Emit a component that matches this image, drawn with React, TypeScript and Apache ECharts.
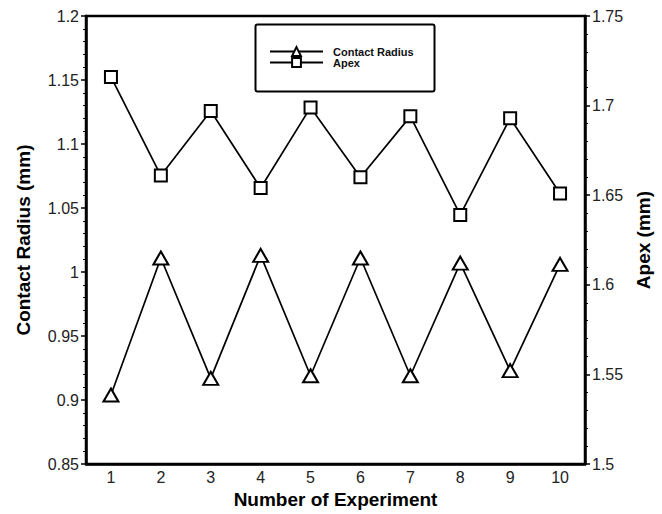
import React, { useEffect, useRef } from "react";
import * as echarts from "echarts";

const experiments = ["1", "2", "3", "4", "5", "6", "7", "8", "9", "10"];
const contactRadius = [0.904, 1.011, 0.917, 1.013, 0.919, 1.011, 0.919, 1.007, 0.923, 1.006];
const apex = [1.716, 1.661, 1.697, 1.654, 1.699, 1.660, 1.694, 1.639, 1.693, 1.651];

const FONT = "'Liberation Sans', Arial, sans-serif";

const fmt = (v: number) => String(parseFloat(Number(v).toFixed(2)));

export default function App() {
  const ref = useRef<HTMLDivElement>(null);
  useEffect(() => {
    if (!ref.current) return;
    const chart = echarts.init(ref.current, null, { renderer: "svg" });
    const axisCommon = {
      type: "value" as const,
      interval: 0.05,
      splitLine: { show: false },
      axisLine: { show: true, lineStyle: { color: "#000", width: 2.5 } },
      axisTick: { show: true, inside: false, length: 5, lineStyle: { color: "#000", width: 1.5 } },
      minorTick: { show: true, splitNumber: 5, length: 3, lineStyle: { color: "#000", width: 1 } },
      axisLabel: { fontFamily: FONT, fontSize: 16, color: "#222", margin: 7, formatter: fmt },
      nameLocation: "middle" as const,
      nameTextStyle: { fontFamily: FONT, fontSize: 19, fontWeight: "bold" as const, color: "#000" },
    };
    chart.setOption({
      animation: false,
      backgroundColor: "#fff",
      grid: {
        left: 86,
        right: 77,
        top: 16,
        bottom: 42,
        show: true,
        borderColor: "#000",
        borderWidth: 2.5,
      },
      xAxis: {
        type: "category",
        data: experiments,
        boundaryGap: true,
        axisLine: { show: true, lineStyle: { color: "#000", width: 2.5 } },
        axisTick: { show: false },
        axisLabel: { fontFamily: FONT, fontSize: 16, color: "#222", margin: 5 },
        name: "Number of Experiment",
        nameLocation: "middle",
        nameGap: 20,
        nameTextStyle: { fontFamily: FONT, fontSize: 19, fontWeight: "bold", color: "#000" },
      },
      yAxis: [
        {
          ...axisCommon,
          min: 0.85,
          max: 1.2,
          position: "left",
          name: "Contact Radius (mm)",
          nameGap: 53,
        },
        {
          ...axisCommon,
          min: 1.5,
          max: 1.75,
          position: "right",
          name: "Apex (mm)",
          nameGap: 46,
          nameRotate: 90,
        },
      ],
      legend: {
        orient: "vertical",
        left: 269,
        top: 46,
        itemWidth: 53,
        itemHeight: 11,
        itemGap: 0,
        padding: 0,
        textStyle: { fontFamily: FONT, fontSize: 11, fontWeight: "bold", color: "#111", padding: [0, 0, 0, 5] },
        data: ["Contact Radius", "Apex"],
      },
      graphic: [
        {
          type: "rect",
          left: 253,
          top: 22,
          shape: { width: 179, height: 67, r: 2 },
          style: { fill: "none", stroke: "#000", lineWidth: 2 },
          z: 100,
        },
      ],
      series: [
        {
          name: "Contact Radius",
          type: "line",
          yAxisIndex: 0,
          data: contactRadius,
          symbol: "triangle",
          symbolSize: [15, 13],
          lineStyle: { color: "#000", width: 1.7 },
          itemStyle: { color: "#fff", borderColor: "#000", borderWidth: 2 },
        },
        {
          name: "Apex",
          type: "line",
          yAxisIndex: 1,
          data: apex,
          symbol: "rect",
          symbolSize: 12,
          lineStyle: { color: "#000", width: 1.7 },
          itemStyle: { color: "#fff", borderColor: "#000", borderWidth: 2 },
        },
      ],
    });
    return () => chart.dispose();
  }, []);
  return <div ref={ref} style={{ position: "fixed", left: 0, top: 0, width: 662, height: 514 }} />;
}
